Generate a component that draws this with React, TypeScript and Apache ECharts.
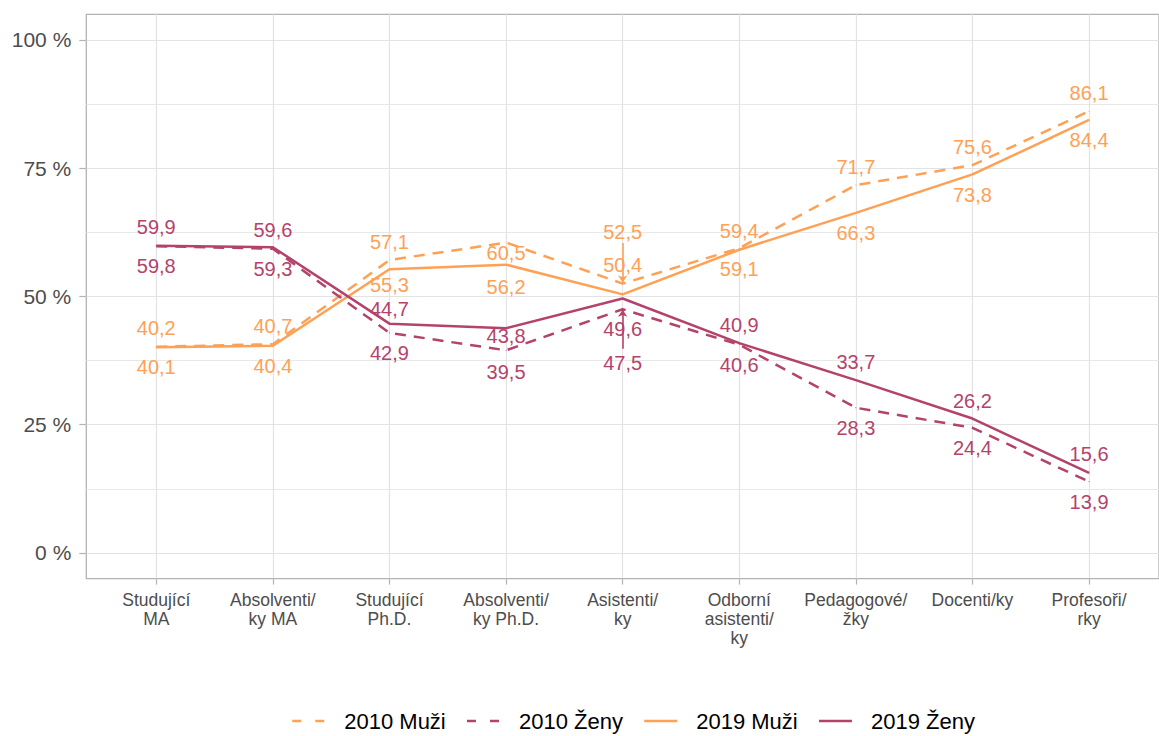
import React, { useEffect, useRef } from "react";
import * as echarts from "echarts";

// ---- data ----
const categories = [
  "Studující\nMA",
  "Absolventi/\nky MA",
  "Studující\nPh.D.",
  "Absolventi/\nky Ph.D.",
  "Asistenti/\nky",
  "Odborní\nasistenti/\nky",
  "Pedagogové/\nžky",
  "Docenti/ky",
  "Profesoři/\nrky",
];
const muzi2010 = [40.2, 40.7, 57.1, 60.5, 52.5, 59.4, 71.7, 75.6, 86.1];
const zeny2010 = [59.8, 59.3, 42.9, 39.5, 47.5, 40.6, 28.3, 24.4, 13.9];
const muzi2019 = [40.1, 40.4, 55.3, 56.2, 50.4, 59.1, 66.3, 73.8, 84.4];
const zeny2019 = [59.9, 59.6, 44.7, 43.8, 49.6, 40.9, 33.7, 26.2, 15.6];
const seriesNames = ["2010 Muži", "2010 Ženy", "2019 Muži", "2019 Ženy"];
const yTicks = [0, 25, 50, 75, 100];
const yMinorTicks = [12.5, 37.5, 62.5, 87.5];

// ---- layout (label offsets in px, repel segments in data coords) ----
const labelDy = [
  [-19, -18, -18, 10, -52, -17, -18, -18, -18],
  [20, 20, 20, 22, 54, 20, 20, 20, 20],
  [20, 20, 16, 22, -29, 19, 20, 21, 20],
  [-19, -17, -15, 8, 30, -18, -18, -18, -19],
];
const repelSegments = [
  { series: 0, x: 4, from: 60.4, to: 52.7 },
  { series: 1, x: 4, from: 39.8, to: 47.4 },
];

const ORANGE = "#FFA155";
const CRIMSON = "#B4436C";
const FONT = '"Liberation Sans", Arial, Helvetica, sans-serif';

const fmt = (v: number) => v.toFixed(1).replace(".", ",");

export default function App() {
  const ref = useRef<HTMLDivElement>(null);
  useEffect(() => {
    if (!ref.current) return;
    const chart = echarts.init(ref.current, undefined, { renderer: "svg" });
    const values = [muzi2010, zeny2010, muzi2019, zeny2019];
    const colors = [ORANGE, CRIMSON, ORANGE, CRIMSON];
    const dashed = [true, true, false, false];
    const idx = categories.map((_, i) => i);

    const series: any[] = values.map((vals, s) => {
      const seg = repelSegments.filter((r) => r.series === s);
      return {
        name: seriesNames[s],
        type: "line",
        symbol: "circle",
        symbolSize: 1,
        showSymbol: true,
        z: 2 + s,
        itemStyle: { color: colors[s] },
        lineStyle: { color: colors[s], width: 2.5, type: dashed[s] ? [11, 8] : "solid" },
        label: {
          show: true,
          position: "inside",
          color: colors[s],
          fontSize: 20,
          fontFamily: FONT,
          formatter: (p: any) => fmt(p.value[1]),
        },
        emphasis: { disabled: true },
        data: vals.map((v, i) => ({ value: [i, v], label: { offset: [0, labelDy[s][i]] } })),
        markLine: seg.length
          ? {
              silent: true,
              symbol: ["none", "arrow"],
              symbolSize: 7,
              label: { show: false },
              lineStyle: { color: colors[s], type: "solid", width: 1.6 },
              data: seg.map((r) => [{ coord: [r.x, r.from] }, { coord: [r.x, r.to] }]),
            }
          : undefined,
      };
    });

    chart.setOption({
      animation: false,
      backgroundColor: "#ffffff",
      grid: {
        left: 86.3,
        top: 14.3,
        width: 1084.4,
        height: 564.3,
        show: true,
        borderColor: "#B3B3B3",
        borderWidth: 1.3,
        backgroundColor: "transparent",
      },
      xAxis: {
        type: "value",
        min: -0.6,
        max: 8.6,
        position: "bottom",
        axisLine: { show: false, onZero: false },
        axisTick: {
          show: true,
          customValues: idx,
          length: 6,
          lineStyle: { color: "#B3B3B3", width: 1.2 },
        },
        axisLabel: {
          customValues: idx,
          formatter: (v: number) => categories[Math.round(v)],
          color: "#4D4D4D",
          fontSize: 17.5,
          lineHeight: 19,
          margin: 12,
          fontFamily: FONT,
        },
        splitLine: { show: true, lineStyle: { color: "#E3E3E3", width: 1.2 } },
      },
      yAxis: [
        {
          type: "value",
          min: -5,
          max: 105,
          position: "left",
          axisLine: { show: false, onZero: false },
          axisTick: {
            show: true,
            customValues: yTicks,
            length: 7,
            lineStyle: { color: "#B3B3B3", width: 1.2 },
          },
          axisLabel: {
            customValues: yTicks,
            formatter: (v: number) => `${v} %`,
            color: "#4D4D4D",
            fontSize: 21,
            margin: 15,
            fontFamily: FONT,
          },
          splitLine: { show: true, lineStyle: { color: "#E3E3E3", width: 1.2 } },
        },
        {
          type: "value",
          min: -5,
          max: 105,
          position: "left",
          axisLine: { show: false, onZero: false },
          axisTick: { show: false, customValues: yMinorTicks },
          axisLabel: { show: false },
          splitLine: { show: true, lineStyle: { color: "#E8E8E8", width: 1 } },
        },
      ],
      legend: {
        left: 286,
        top: 705,
        itemWidth: 33,
        itemHeight: 24,
        itemGap: 20,
        itemStyle: { opacity: 0 },
        textStyle: { fontSize: 22, color: "#000000", fontFamily: FONT, padding: [0, 0, 0, 14] },
        data: seriesNames.map((n, s) => ({
          name: n,
          lineStyle: dashed[s] ? { type: [9, 14], width: 2.5 } : { width: 2.5 },
        })),
      },
      series,
    });
    return () => chart.dispose();
  }, []);
  return (
    <div
      ref={ref}
      style={{ position: "fixed", left: 0, top: 0, width: 1159, height: 736 }}
    />
  );
}
